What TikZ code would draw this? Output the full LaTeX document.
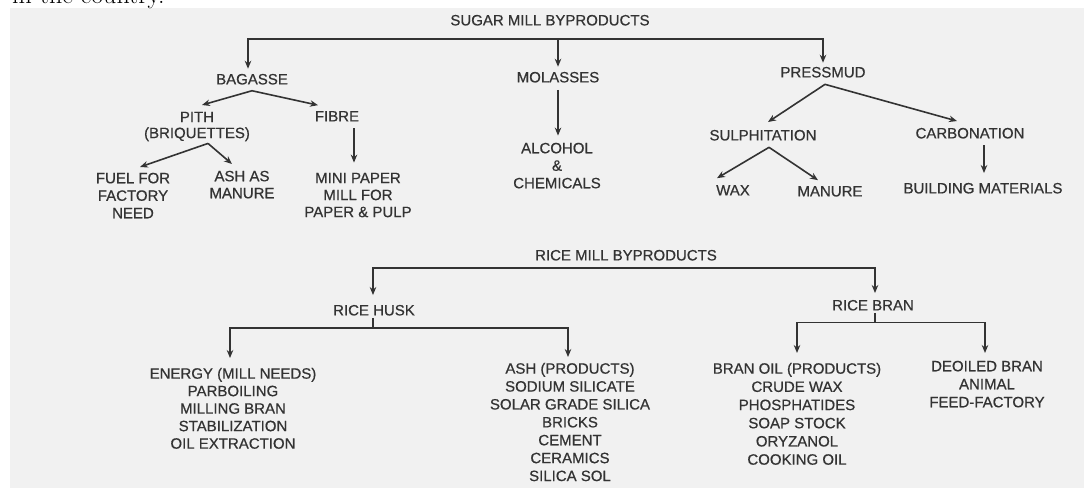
\documentclass[tikz,border=0pt]{standalone}
\usepackage{fontspec}
\newfontfamily\labfont[FakeBold=0.6]{Liberation Sans}
\usetikzlibrary{arrows.meta}
\definecolor{ink}{HTML}{333333}
\definecolor{scan}{HTML}{F1F1F1}
\begin{document}
\begin{tikzpicture}[x=1pt,y=-1pt,
  lab/.style={font=\labfont\fontsize{15}{17.5}\selectfont, text=ink, inner sep=0pt, align=center},
  one/.style={lab, anchor=base},
  multi/.style={lab, anchor=north},
  con/.style={draw=ink, line width=1.6pt},
  arr/.style={con, -{Stealth[length=8pt,width=6.5pt]}}]
\useasboundingbox (0,0) rectangle (1084,488);
\fill[scan] (10,8) rectangle (1084,488);
\node[font=\fontsize{26}{30}\selectfont, anchor=base west, inner sep=0pt] (caption) at (12,3) {in the country.};

% ---------- sugar mill ----------
\node[one] (sugar) at (550,25.4) {SUGAR MILL BYPRODUCTS};
\node[one] (bagasse) at (252,84.4) {BAGASSE};
\node[one] (molasses) at (558,82.4) {MOLASSES};
\node[one] (pressmud) at (823,77.4) {PRESSMUD};
\node[multi, font=\labfont\fontsize{15}{16}\selectfont] (pith) at (197,111.6) {PITH\\(BRIQUETTES)};
\node[one] (fibre) at (337,121.4) {FIBRE};
\node[multi] (fuel) at (133,172.6) {FUEL FOR\\FACTORY\\NEED};
\node[multi, font=\labfont\fontsize{15}{17}\selectfont] (ashm) at (242,170.6) {ASH AS\\MANURE};
\node[multi, font=\labfont\fontsize{15}{17}\selectfont] (mini) at (358,172.6) {MINI PAPER\\MILL FOR\\PAPER \& PULP};
\node[multi] (alcohol) at (557,142.6) {ALCOHOL\\\&\\CHEMICALS};
\node[one] (sulph) at (763,140.4) {SULPHITATION};
\node[one] (carb) at (970,138.4) {CARBONATION};
\node[one] (wax) at (733,195.4) {WAX};
\node[one] (manure) at (830,196.4) {MANURE};
\node[one] (building) at (983,193.4) {BUILDING MATERIALS};

\coordinate (sbar) at (558,39);
\draw[arr, shorten >=5pt] (sbar) -| ([xshift=-4pt]bagasse.north);
\draw[arr, shorten >=4pt] (sbar) -| (pressmud.north);
\draw[arr, shorten >=5pt] (sbar) -- (molasses.north);

\coordinate (bagA) at ([yshift=-6pt]bagasse.south);
\draw[arr] (bagA) -- ([xshift=5pt,yshift=6.6pt]pith.north);
\draw[arr] (bagA) -- ([xshift=-19pt,yshift=5.7pt]fibre.north);

\coordinate (pithA) at ([xshift=11pt,yshift=-2pt]pith.south);
\draw[arr] (pithA) -- ([xshift=7pt,yshift=5.6pt]fuel.north);
\draw[arr] (pithA) -- ([xshift=-10pt,yshift=6.6pt]ashm.north);

\draw[arr] ([xshift=17pt,yshift=-6.6pt]fibre.south) -- ([xshift=-4pt,yshift=10pt]mini.north);
\draw[arr, shorten <=7pt, shorten >=7pt] (molasses.south) -- (molasses.south |- alcohol.north);

\coordinate (pressA) at ([xshift=2pt,yshift=-6.6pt]pressmud.south);
\draw[arr] (pressA) -- ([xshift=5pt,yshift=7.7pt]sulph.north);
\draw[arr] (pressA) -- ([xshift=-13pt,yshift=6.7pt]carb.north);

\coordinate (sulphA) at ([xshift=6pt,yshift=-6.6pt]sulph.south);
\draw[arr] (sulphA) -- ([xshift=-16pt,yshift=6.7pt]wax.north);
\draw[arr] (sulphA) -- ([xshift=-12pt,yshift=5.7pt]manure.north);

\coordinate (carbA) at ([xshift=14pt,yshift=-6.6pt]carb.south);
\draw[arr, shorten >=9.7pt] (carbA) -- (carbA |- building.north);

% ---------- rice mill ----------
\node[one] (rice) at (626,260.4) {RICE MILL BYPRODUCTS};
\node[one] (husk) at (374,315.4) {RICE HUSK};
\node[one] (bran) at (873,310.4) {RICE BRAN};
\node[multi] (energy) at (233,367.6) {ENERGY (MILL NEEDS)\\PARBOILING\\MILLING BRAN\\STABILIZATION\\OIL EXTRACTION};
\node[multi, font=\labfont\fontsize{15}{17.9}\selectfont] (ashp) at (570,362.6) {ASH (PRODUCTS)\\SODIUM SILICATE\\SOLAR GRADE SILICA\\BRICKS\\CEMENT\\CERAMICS\\SILICA SOL};
\node[multi, font=\labfont\fontsize{15}{18.2}\selectfont] (branoil) at (797,362.6) {BRAN OIL (PRODUCTS)\\CRUDE WAX\\PHOSPHATIDES\\SOAP STOCK\\ORYZANOL\\COOKING OIL};
\node[multi, font=\labfont\fontsize{15}{18}\selectfont] (deoiled) at (987,360.6) {DEOILED BRAN\\ANIMAL\\FEED-FACTORY};

\coordinate (rbar) at (626,268);
\draw[arr, shorten >=9.7pt] (rbar) -| ([xshift=-1pt]husk.north);
\draw[arr, shorten >=6.7pt] (rbar) -| ([xshift=2pt]bran.north);

\coordinate (hbar) at ([xshift=-1pt,yshift=-12pt]husk.south);
\draw[con, shorten <=2pt] ([xshift=-1pt]husk.south) -- (hbar);
\draw[arr, shorten >=9.6pt] (hbar) -| ([xshift=-3pt]energy.north);
\draw[arr, shorten >=5.6pt] (hbar) -| ([xshift=-2pt]ashp.north);

\coordinate (bbar) at ([xshift=2pt,yshift=-11.6pt]bran.south);
\draw[con, shorten <=2pt] ([xshift=2pt]bran.south) -- (bbar);
\draw[arr, shorten >=9.6pt] (bbar) -| (branoil.north);
\draw[arr, shorten >=7.6pt] (bbar) -| ([xshift=-2pt]deoiled.north);
\end{tikzpicture}
\end{document}
